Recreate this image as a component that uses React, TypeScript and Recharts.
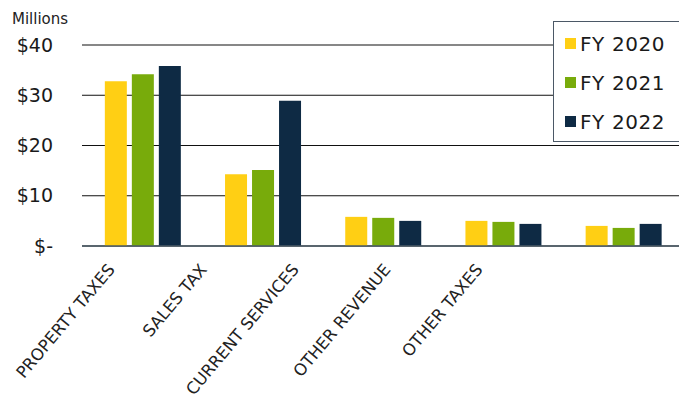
import React from 'react';
import { BarChart, Bar, XAxis, YAxis, CartesianGrid } from 'recharts';

const categories = ['PROPERTY TAXES', 'SALES TAX', 'CURRENT SERVICES', 'OTHER REVENUE', 'OTHER TAXES'];
const fy2020 = [32.8, 14.3, 5.8, 5.0, 4.0];
const fy2021 = [34.2, 15.1, 5.6, 4.8, 3.6];
const fy2022 = [35.8, 28.9, 5.0, 4.4, 4.4];
const yTicks = [0, 10, 20, 30, 40];

const series = [
  { key: 'fy2020', name: 'FY 2020', color: '#FFCF14' },
  { key: 'fy2021', name: 'FY 2021', color: '#78AB0B' },
  { key: 'fy2022', name: 'FY 2022', color: '#0E2A44' },
];

const data = categories.map((name, i) => ({
  name,
  fy2020: fy2020[i],
  fy2021: fy2021[i],
  fy2022: fy2022[i],
}));

const font = '"DejaVu Sans", sans-serif';

const AngledTick = (props: any) => {
  const { x, y, payload } = props;
  // labels sit a bit left of their bars, as in the source sheet
  const ex = x * 0.765 + 7;
  const ey = y + 24;
  return (
    <text
      x={ex}
      y={ey}
      transform={`rotate(-50, ${ex}, ${ey})`}
      textAnchor="end"
      fill="#222"
      fontSize={16.5}
      fontFamily={font}
    >
      {payload.value}
    </text>
  );
};

const LegendBox = () => (
  <div
    style={{
      position: 'absolute',
      left: 553,
      top: 21,
      width: 125,
      height: 117,
      border: '1px solid #4b5866',
      background: '#fff',
      paddingTop: 2,
    }}
  >
    {series.map((s) => (
      <div key={s.key} style={{ display: 'flex', alignItems: 'center', height: 39, paddingLeft: 11 }}>
        <span style={{ width: 11, height: 11, background: s.color, display: 'inline-block', marginRight: 4 }} />
        <span style={{ fontFamily: font, fontSize: 20, color: '#1a1a1a', letterSpacing: 0.6 }}>{s.name}</span>
      </div>
    ))}
  </div>
);

export default function App() {
  return (
    <div style={{ position: 'relative', width: 687, height: 409, margin: -8, background: '#fff' }}>
      <div style={{ position: 'absolute', left: 12, top: 10, fontFamily: font, fontSize: 15, color: '#222' }}>
        Millions
      </div>
      <BarChart
        width={687}
        height={409}
        data={data}
        margin={{ top: 45, right: 4, left: 0, bottom: 0 }}
        barCategoryGap="19%"
        barGap={5}
      >
        <CartesianGrid horizontal vertical={false} stroke="#111" strokeWidth={1.2} />
        <XAxis
          dataKey="name"
          height={163}
          interval={0}
          tickLine={false}
          tickSize={0}
          tickMargin={0}
          axisLine={{ stroke: '#4a5a66', strokeWidth: 1.5 }}
          tick={<AngledTick />}
        />
        <YAxis
          width={82}
          domain={[0, 40]}
          ticks={yTicks}
          interval={0}
          axisLine={false}
          tickLine={false}
          tickSize={0}
          tickMargin={29}
          tickFormatter={(v: number) => (v === 0 ? '$-' : `$${v}`)}
          tick={{ fill: '#1a1a1a', fontSize: 19, fontFamily: font }}
        />
        {series.map((s) => (
          <Bar key={s.key} dataKey={s.key} name={s.name} fill={s.color} isAnimationActive={false} />
        ))}
      </BarChart>
      <LegendBox />
    </div>
  );
}
